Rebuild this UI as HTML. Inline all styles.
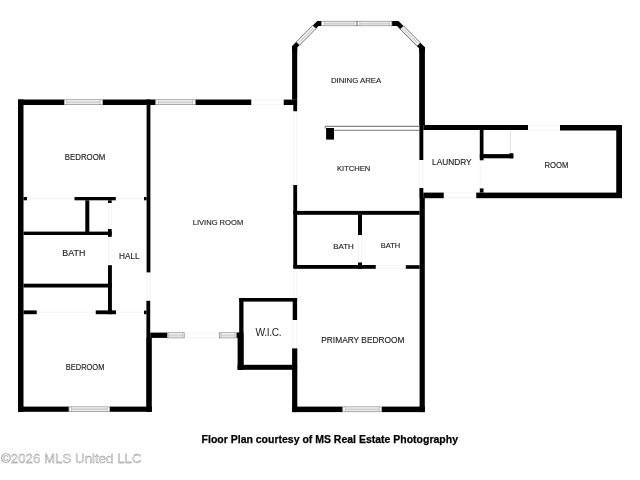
<!DOCTYPE html>
<html><head><meta charset="utf-8"><style>
html,body{margin:0;padding:0;background:#fff;width:640px;height:480px;overflow:hidden}
svg{position:absolute;left:0;top:0;will-change:transform}
</style></head><body>
<svg width="640" height="480" viewBox="0 0 640 480">
<polyline points="325.2,128.5 325.2,126.3 419.2,126.3" fill="none" stroke="#666" stroke-width="1"/><line x1="334" y1="130.3" x2="419.2" y2="130.3" stroke="#777" stroke-width="1"/><line x1="510.5" y1="130" x2="510.5" y2="153.2" stroke="#d8d8d8" stroke-width="0.7"/><g stroke="#efefef" stroke-width="0.7"><line x1="27" y1="198.7" x2="74.5" y2="198.7"/><line x1="115.8" y1="198.7" x2="144" y2="198.7"/><line x1="108.5" y1="203" x2="108.5" y2="229"/><line x1="111.2" y1="203" x2="111.2" y2="229"/><line x1="108.5" y1="236.9" x2="108.5" y2="265.2"/><line x1="36.75" y1="312.3" x2="95.75" y2="312.3"/><line x1="116" y1="312.3" x2="144" y2="312.3"/><line x1="146.8" y1="272.4" x2="146.8" y2="300.8"/><line x1="150.2" y1="272.4" x2="150.2" y2="300.8"/><line x1="251.25" y1="100" x2="283.75" y2="100"/><line x1="251.25" y1="104.6" x2="283.75" y2="104.6"/><line x1="293.6" y1="111.25" x2="293.6" y2="185"/><line x1="296.8" y1="111.25" x2="296.8" y2="185"/><line x1="293.6" y1="267.5" x2="293.6" y2="298"/><line x1="296.8" y1="267.5" x2="296.8" y2="298"/><line x1="293" y1="320" x2="293" y2="348.4"/><line x1="296.8" y1="320" x2="296.8" y2="348.4"/><line x1="184.5" y1="332.8" x2="219.2" y2="332.8"/><line x1="184.5" y1="337.8" x2="219.2" y2="337.8"/><line x1="419.7" y1="160" x2="419.7" y2="188"/><line x1="423" y1="160" x2="423" y2="188"/><line x1="358.4" y1="235" x2="358.4" y2="262.5"/><line x1="361.6" y1="235" x2="361.6" y2="262.5"/><line x1="375.75" y1="265.4" x2="405.5" y2="265.4"/><line x1="375.75" y1="268.4" x2="405.5" y2="268.4"/><line x1="528" y1="125.4" x2="560" y2="125.4"/><line x1="528" y1="130" x2="560" y2="130"/><line x1="443.75" y1="193" x2="476.25" y2="193"/><line x1="443.75" y1="197.6" x2="476.25" y2="197.6"/><line x1="480.2" y1="160.3" x2="480.2" y2="188.4"/></g>
<g fill="#000">
<rect x="18" y="99.5" width="5.50" height="312.40"/>
<rect x="18" y="99.5" width="46.00" height="5.50"/>
<rect x="102.9" y="99.5" width="52.60" height="5.50"/>
<rect x="195.5" y="99.5" width="55.75" height="5.50"/>
<rect x="283.75" y="99.6" width="13.35" height="5.40"/>
<rect x="146.6" y="99.5" width="3.80" height="172.90"/>
<rect x="146.4" y="300.8" width="3.80" height="37.20"/>
<rect x="146.2" y="337.9" width="5.60" height="74.00"/>
<rect x="23.5" y="197" width="3.50" height="3.30"/>
<rect x="74.5" y="197" width="41.30" height="3.30"/>
<rect x="144" y="197" width="2.60" height="3.30"/>
<rect x="108" y="200.3" width="3.70" height="2.70"/>
<rect x="85.3" y="200.3" width="4.00" height="31.70"/>
<rect x="23.5" y="231.6" width="88.20" height="3.40"/>
<rect x="108" y="229" width="3.70" height="7.90"/>
<rect x="108" y="265.2" width="3.90" height="49.00"/>
<rect x="23.5" y="283.7" width="88.40" height="3.80"/>
<rect x="23.5" y="310.4" width="13.25" height="3.80"/>
<rect x="95.75" y="310.4" width="20.25" height="3.80"/>
<rect x="144" y="310.6" width="2.60" height="3.60"/>
<rect x="18" y="406.6" width="50.75" height="5.20"/>
<rect x="110" y="406.6" width="41.80" height="5.20"/>
<rect x="150.2" y="332.6" width="16.80" height="5.30"/>
<rect x="236.4" y="332.6" width="6.60" height="5.30"/>
<rect x="239.2" y="298" width="57.90" height="3.60"/>
<rect x="239.2" y="298" width="4.30" height="71.80"/>
<rect x="237.6" y="332.6" width="5.90" height="37.20"/>
<rect x="237.6" y="364.8" width="59.50" height="5.00"/>
<rect x="292.1" y="46" width="5.10" height="53.60"/>
<rect x="293.3" y="99.6" width="3.80" height="11.65"/>
<rect x="293.3" y="185" width="3.80" height="82.50"/>
<rect x="292.7" y="298" width="4.40" height="22.00"/>
<rect x="292.1" y="348.4" width="5.20" height="63.70"/>
<rect x="419.2" y="47" width="5.70" height="78.00"/>
<rect x="419.4" y="125" width="3.90" height="35.00"/>
<rect x="419.4" y="188" width="3.90" height="10.00"/>
<rect x="419.6" y="198" width="5.20" height="214.10"/>
<rect x="326.1" y="128" width="7.90" height="11.60"/>
<rect x="293.3" y="210.9" width="126.30" height="3.90"/>
<rect x="358" y="214.6" width="4.00" height="20.40"/>
<rect x="358" y="262.5" width="4.00" height="6.30"/>
<rect x="293.3" y="265" width="82.45" height="3.80"/>
<rect x="405.8" y="265.2" width="13.80" height="3.60"/>
<rect x="292.1" y="406.6" width="50.40" height="5.50"/>
<rect x="382" y="406.6" width="43.00" height="5.50"/>
<rect x="423.3" y="125" width="104.70" height="5.00"/>
<rect x="560" y="125" width="62.00" height="5.50"/>
<rect x="616.25" y="125" width="5.75" height="73.00"/>
<rect x="423.3" y="192.6" width="20.45" height="5.60"/>
<rect x="476.25" y="192.6" width="145.75" height="5.60"/>
<rect x="479.8" y="130" width="3.70" height="30.30"/>
<rect x="479.8" y="154.1" width="33.50" height="4.20"/>
<rect x="509.5" y="153.2" width="3.80" height="5.10"/>
<rect x="479.8" y="188.4" width="3.70" height="4.20"/>
<polygon points="292.1,46.1 317.3,20.9 321.4,20.9 321.4,26.1 318.5,26.1 297.2,47.4 297.2,52 292.1,52"/>
<polygon points="392.1,20.9 398.5,20.9 424.9,47.3 424.9,52 419.2,52 419.2,48.4 397,26.1 392.1,26.1"/>
</g>
<g>
<rect x="64.3" y="99.8" width="38.30" height="4.90" fill="#fff" stroke="#707070" stroke-width="0.6"/><g stroke="#959595" stroke-width="0.5" fill="none"><line x1="66.80" y1="99.80" x2="66.80" y2="104.70"/><line x1="100.10" y1="99.80" x2="100.10" y2="104.70"/><line x1="66.80" y1="101.81" x2="100.10" y2="101.81"/><line x1="66.80" y1="102.91" x2="100.10" y2="102.91"/></g><rect x="155.8" y="99.8" width="39.40" height="4.90" fill="#fff" stroke="#707070" stroke-width="0.6"/><g stroke="#959595" stroke-width="0.5" fill="none"><line x1="158.30" y1="99.80" x2="158.30" y2="104.70"/><line x1="192.70" y1="99.80" x2="192.70" y2="104.70"/><line x1="158.30" y1="101.81" x2="192.70" y2="101.81"/><line x1="158.30" y1="102.91" x2="192.70" y2="102.91"/></g><rect x="69.05" y="406.90000000000003" width="40.65" height="4.60" fill="#fff" stroke="#707070" stroke-width="0.6"/><g stroke="#959595" stroke-width="0.5" fill="none"><line x1="71.55" y1="406.90" x2="71.55" y2="411.50"/><line x1="107.20" y1="406.90" x2="107.20" y2="411.50"/><line x1="71.55" y1="408.78" x2="107.20" y2="408.78"/><line x1="71.55" y1="409.82" x2="107.20" y2="409.82"/></g><rect x="342.8" y="406.90000000000003" width="38.90" height="4.90" fill="#fff" stroke="#707070" stroke-width="0.6"/><g stroke="#959595" stroke-width="0.5" fill="none"><line x1="345.30" y1="406.90" x2="345.30" y2="411.80"/><line x1="379.20" y1="406.90" x2="379.20" y2="411.80"/><line x1="345.30" y1="408.91" x2="379.20" y2="408.91"/><line x1="345.30" y1="410.01" x2="379.20" y2="410.01"/></g><rect x="321.7" y="21.2" width="35.00" height="4.60" fill="#fff" stroke="#707070" stroke-width="0.6"/><g stroke="#959595" stroke-width="0.5" fill="none"><line x1="324.20" y1="21.20" x2="324.20" y2="25.80"/><line x1="354.20" y1="21.20" x2="354.20" y2="25.80"/><line x1="324.20" y1="23.08" x2="354.20" y2="23.08"/><line x1="324.20" y1="24.12" x2="354.20" y2="24.12"/></g><rect x="357.3" y="21.2" width="34.50" height="4.60" fill="#fff" stroke="#707070" stroke-width="0.6"/><g stroke="#959595" stroke-width="0.5" fill="none"><line x1="359.80" y1="21.20" x2="359.80" y2="25.80"/><line x1="389.30" y1="21.20" x2="389.30" y2="25.80"/><line x1="359.80" y1="23.08" x2="389.30" y2="23.08"/><line x1="359.80" y1="24.12" x2="389.30" y2="24.12"/></g><rect x="167.3" y="332.8" width="16.90" height="5.10" fill="#fff" stroke="#707070" stroke-width="0.6"/><g stroke="#959595" stroke-width="0.5" fill="none"><line x1="168.60" y1="332.80" x2="168.60" y2="337.90"/><line x1="182.90" y1="332.80" x2="182.90" y2="337.90"/><line x1="168.60" y1="334.89" x2="182.90" y2="334.89"/><line x1="168.60" y1="336.03" x2="182.90" y2="336.03"/></g><rect x="219.5" y="332.8" width="16.80" height="5.10" fill="#fff" stroke="#707070" stroke-width="0.6"/><g stroke="#959595" stroke-width="0.5" fill="none"><line x1="220.80" y1="332.80" x2="220.80" y2="337.90"/><line x1="235.00" y1="332.80" x2="235.00" y2="337.90"/><line x1="220.80" y1="334.89" x2="235.00" y2="334.89"/><line x1="220.80" y1="336.03" x2="235.00" y2="336.03"/></g><polygon points="296.3,41.9 312.8,25.4 316,28.6 299.5,45.1" fill="#fff" stroke="#6a6a6a" stroke-width="0.7"/><polygon points="298.90,41.86 312.76,28.00 313.53,28.77 299.67,42.63" fill="#fff" stroke="#9a9a9a" stroke-width="0.5"/><polygon points="403.5,25.9 420.3,42.7 417.1,45.9 400.3,29.1" fill="#fff" stroke="#6a6a6a" stroke-width="0.7"/><polygon points="403.56,28.52 417.68,42.64 416.91,43.40 402.80,29.29" fill="#fff" stroke="#9a9a9a" stroke-width="0.5"/>
</g>
<g fill="#1e1e1e" stroke="#1e1e1e" stroke-width="0.15" font-family="Liberation Sans, sans-serif">
<text x="64.80" y="160.00" font-size="8.52" textLength="40.50" lengthAdjust="spacingAndGlyphs">BEDROOM</text>
<text x="62.30" y="255.70" font-size="9.22" textLength="23.10" lengthAdjust="spacingAndGlyphs">BATH</text>
<text x="119.00" y="259.30" font-size="8.80" textLength="20.60" lengthAdjust="spacingAndGlyphs">HALL</text>
<text x="65.80" y="370.10" font-size="8.24" textLength="38.60" lengthAdjust="spacingAndGlyphs">BEDROOM</text>
<text x="192.70" y="225.20" font-size="8.10" textLength="50.50" lengthAdjust="spacingAndGlyphs">LIVING ROOM</text>
<text x="330.90" y="83.40" font-size="8.10" textLength="50.30" lengthAdjust="spacingAndGlyphs">DINING AREA</text>
<text x="337.00" y="170.70" font-size="7.96" textLength="33.20" lengthAdjust="spacingAndGlyphs">KITCHEN</text>
<text x="333.20" y="249.00" font-size="8.10" textLength="20.50" lengthAdjust="spacingAndGlyphs">BATH</text>
<text x="380.80" y="248.00" font-size="7.96" textLength="19.40" lengthAdjust="spacingAndGlyphs">BATH</text>
<text x="255.50" y="336.05" font-size="10.20" textLength="26.20" lengthAdjust="spacing" stroke-width="0">W.I.C.</text>
<text x="321.25" y="342.80" font-size="8.66" textLength="83.30" lengthAdjust="spacingAndGlyphs">PRIMARY BEDROOM</text>
<text x="432.00" y="164.90" font-size="8.24" textLength="39.60" lengthAdjust="spacingAndGlyphs">LAUNDRY</text>
<text x="544.50" y="167.90" font-size="8.24" textLength="23.90" lengthAdjust="spacingAndGlyphs">ROOM</text>
</g>
<text x="201.6" y="443.4" font-family="Liberation Sans, sans-serif" font-weight="bold" font-size="10.6" fill="#000" stroke="#000" stroke-width="0.25" textLength="256.4" lengthAdjust="spacingAndGlyphs">Floor Plan courtesy of MS Real Estate Photography</text>
<text x="1" y="462.7" font-family="Liberation Sans, sans-serif" font-size="13.1" fill="#e8e8e8" stroke="#8a8a8a" stroke-width="0.32" textLength="140.5" lengthAdjust="spacingAndGlyphs">©2026 MLS United LLC</text>
</svg>
</body></html>
